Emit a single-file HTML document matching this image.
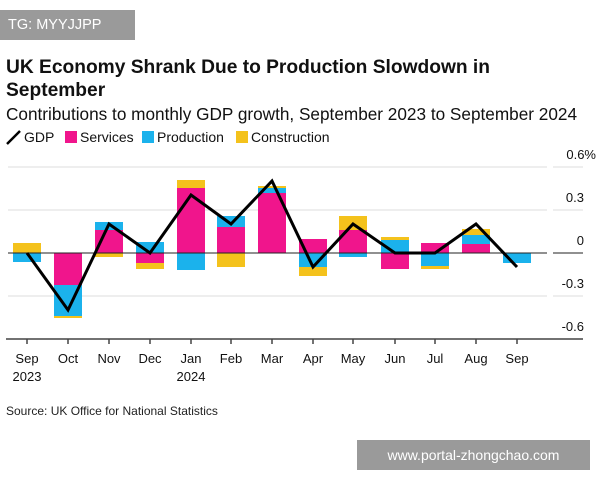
<!DOCTYPE html>
<html><head><style>
body{margin:0;width:600px;height:480px;background:#fff;font-family:"Liberation Sans",sans-serif;position:relative;overflow:hidden;color:#111}
.a{position:absolute;white-space:nowrap}
</style></head><body>
<div class="a" style="left:0;top:10px;width:135px;height:30px;background:#9a9a9a;color:#fff;font-size:14.5px;line-height:30px;padding-left:8px;box-sizing:border-box">TG: MYYJJPP</div>
<div class="a" style="left:6px;top:56px;font-size:19.2px;font-weight:bold;line-height:23px">UK Economy Shrank Due to Production Slowdown in<br>September</div>
<div class="a" style="left:6px;top:104px;font-size:17.2px">Contributions to monthly GDP growth, September 2023 to September 2024</div>
<svg class="a" style="left:0;top:0" width="600" height="480">
<g font-family="Liberation Sans" font-size="14" fill="#111">
<line x1="7" y1="144" x2="20" y2="131" stroke="#000" stroke-width="2.5"/><text x="24" y="142">GDP</text>
<rect x="65" y="131" width="12" height="12" fill="#f0158c"/><text x="80" y="142">Services</text>
<rect x="142" y="131" width="12" height="12" fill="#1bb2ec"/><text x="157" y="142">Production</text>
<rect x="236" y="131" width="12" height="12" fill="#f4c21c"/><text x="251" y="142">Construction</text>
</g>
<g stroke="#ddd" stroke-width="1">
<line x1="8" y1="167" x2="547" y2="167"/><line x1="553" y1="167" x2="583" y2="167"/>
<line x1="8" y1="210" x2="547" y2="210"/><line x1="553" y1="210" x2="583" y2="210"/>
<line x1="8" y1="296" x2="547" y2="296"/><line x1="553" y1="296" x2="583" y2="296"/>
</g>
<g font-family="Liberation Sans" font-size="13" fill="#111" text-anchor="end">
<text x="596" y="159">0.6%</text><text x="584" y="202">0.3</text><text x="584" y="245">0</text><text x="584" y="288">-0.3</text><text x="584" y="331">-0.6</text>
</g>
<g>
<rect x="13" y="243" width="28" height="10" fill="#f4c21c"/><rect x="13" y="253" width="28" height="9" fill="#1bb2ec"/>
<rect x="54" y="253" width="28" height="32" fill="#f0158c"/><rect x="54" y="285" width="28" height="31" fill="#1bb2ec"/><rect x="54" y="316" width="28" height="2" fill="#f4c21c"/>
<rect x="95" y="222" width="28" height="8" fill="#1bb2ec"/><rect x="95" y="230" width="28" height="23" fill="#f0158c"/><rect x="95" y="253" width="28" height="4" fill="#f4c21c"/>
<rect x="136" y="242" width="28" height="11" fill="#1bb2ec"/><rect x="136" y="253" width="28" height="10" fill="#f0158c"/><rect x="136" y="263" width="28" height="6" fill="#f4c21c"/>
<rect x="177" y="180" width="28" height="8" fill="#f4c21c"/><rect x="177" y="188" width="28" height="65" fill="#f0158c"/><rect x="177" y="253" width="28" height="17" fill="#1bb2ec"/>
<rect x="217" y="216" width="28" height="11" fill="#1bb2ec"/><rect x="217" y="227" width="28" height="26" fill="#f0158c"/><rect x="217" y="253" width="28" height="14" fill="#f4c21c"/>
<rect x="258" y="186" width="28" height="2" fill="#f4c21c"/><rect x="258" y="188" width="28" height="5" fill="#1bb2ec"/><rect x="258" y="193" width="28" height="60" fill="#f0158c"/>
<rect x="299" y="239" width="28" height="14" fill="#f0158c"/><rect x="299" y="253" width="28" height="14" fill="#1bb2ec"/><rect x="299" y="267" width="28" height="9" fill="#f4c21c"/>
<rect x="339" y="216" width="28" height="14" fill="#f4c21c"/><rect x="339" y="230" width="28" height="23" fill="#f0158c"/><rect x="339" y="253" width="28" height="4" fill="#1bb2ec"/>
<rect x="381" y="237" width="28" height="3" fill="#f4c21c"/><rect x="381" y="240" width="28" height="13" fill="#1bb2ec"/><rect x="381" y="253" width="28" height="16" fill="#f0158c"/>
<rect x="421" y="243" width="28" height="10" fill="#f0158c"/><rect x="421" y="253" width="28" height="13" fill="#1bb2ec"/><rect x="421" y="266" width="28" height="3" fill="#f4c21c"/>
<rect x="462" y="229" width="28" height="6" fill="#f4c21c"/><rect x="462" y="235" width="28" height="9" fill="#1bb2ec"/><rect x="462" y="244" width="28" height="9" fill="#f0158c"/>
<rect x="503" y="253" width="28" height="10" fill="#1bb2ec"/>
</g>
<line x1="8" y1="253" x2="547" y2="253" stroke="#222" stroke-width="1"/><line x1="553" y1="253" x2="583" y2="253" stroke="#222" stroke-width="1"/>
<polyline points="27,253 68,310 109,224 150,253 191,195 231,224 272,181 313,267 353,224 395,253 435,253 476,224 517,267" fill="none" stroke="#000" stroke-width="3" stroke-linejoin="miter"/>
<line x1="6" y1="339" x2="583" y2="339" stroke="#444" stroke-width="1.5"/>
<g stroke="#444" stroke-width="1.5">
<line x1="27" y1="339" x2="27" y2="344"/><line x1="68" y1="339" x2="68" y2="344"/><line x1="109" y1="339" x2="109" y2="344"/><line x1="150" y1="339" x2="150" y2="344"/><line x1="191" y1="339" x2="191" y2="344"/><line x1="231" y1="339" x2="231" y2="344"/><line x1="272" y1="339" x2="272" y2="344"/><line x1="313" y1="339" x2="313" y2="344"/><line x1="353" y1="339" x2="353" y2="344"/><line x1="395" y1="339" x2="395" y2="344"/><line x1="435" y1="339" x2="435" y2="344"/><line x1="476" y1="339" x2="476" y2="344"/><line x1="517" y1="339" x2="517" y2="344"/>
</g>
<g font-family="Liberation Sans" font-size="13" fill="#111" text-anchor="middle">
<text x="27" y="363">Sep</text><text x="68" y="363">Oct</text><text x="109" y="363">Nov</text><text x="150" y="363">Dec</text><text x="191" y="363">Jan</text><text x="231" y="363">Feb</text><text x="272" y="363">Mar</text><text x="313" y="363">Apr</text><text x="353" y="363">May</text><text x="395" y="363">Jun</text><text x="435" y="363">Jul</text><text x="476" y="363">Aug</text><text x="517" y="363">Sep</text>
<text x="27" y="381">2023</text><text x="191" y="381">2024</text>
</g>
<text x="6" y="415" font-family="Liberation Sans" font-size="12" fill="#222">Source: UK Office for National Statistics</text>
</svg>
<div class="a" style="left:357px;top:440px;width:233px;height:30px;background:#9a9a9a;color:#fff;font-size:14px;line-height:30px;text-align:center">www.portal-zhongchao.com</div>
</body></html>
